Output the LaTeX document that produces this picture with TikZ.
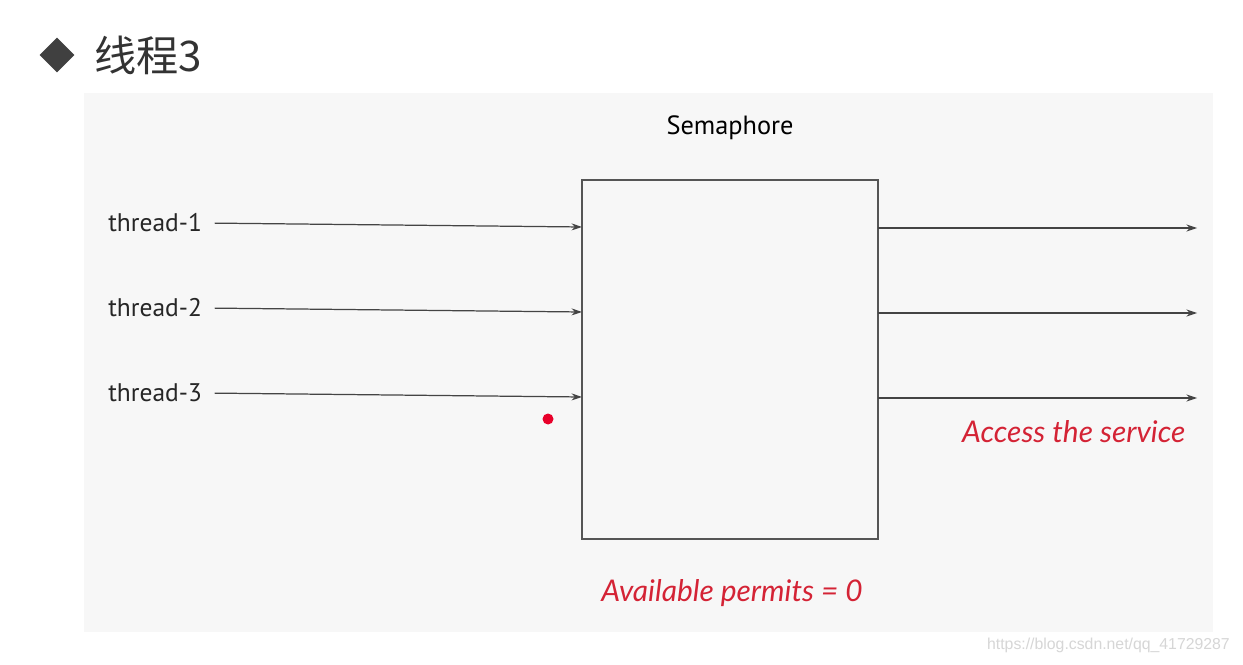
\documentclass[tikz,border=0pt]{standalone}
\usepackage{fontspec}
\setmainfont{PT Sans}
\newfontfamily\cjk{Noto Sans CJK SC}
\newfontfamily\handfont{Lato}
\newfontfamily\wmfont{Liberation Sans}
\usetikzlibrary{shapes.geometric,arrows.meta}
\definecolor{panel}{HTML}{F7F7F7}
\definecolor{boxline}{HTML}{555555}
\definecolor{arrowline}{HTML}{444444}
\definecolor{handred}{HTML}{D42335}
\definecolor{dotred}{HTML}{E8002A}
\definecolor{wmgray}{HTML}{D6D6D6}
\tikzset{
  thread/.style={anchor=west,inner sep=0pt,text=black!85,font=\fontsize{14.5}{17}\selectfont},
  hand/.style={text=handred,font=\handfont\itshape\fontsize{17}{20}\selectfont},
  flow/.style={arrowline,line width=0.7pt,->,>={Stealth[length=6pt,width=4pt]}}
}
\begin{document}
\begin{tikzpicture}[x=0.02cm,y=-0.02cm]
            \useasboundingbox (0,0) rectangle (1243,665);
            \fill[white] (0,0) rectangle (1243,665);
            \fill[panel] (84,93) rectangle (1213,632);
            \node[diamond,fill=black!75,minimum width=0.7cm,minimum height=0.7cm,inner sep=0pt] (bullet) at (57,55) {};
            \node[anchor=west,text=black!80,font=\cjk\fontsize{24}{28}\selectfont] (title) at (88,55) {线程3};
            \node[font=\fontsize{15}{18}\selectfont] (semlabel) at (730,128) {Semaphore};
            \node[draw=boxline,thick,anchor=north west,minimum width=5.92cm,minimum height=7.18cm,inner sep=0pt,outer sep=0pt] (sem) at (582,180) {};
            \node[thread] (t1) at (108,223) {thread-1};
            \node[thread] (t2) at (108,308) {thread-2};
            \node[thread] (t3) at (108,393) {thread-3};
            \coordinate (i1) at (582,227);
            \coordinate (i2) at (582,312);
            \coordinate (i3) at (582,397);
            \coordinate (o1) at (1197,228);
            \coordinate (o2) at (1197,313);
            \coordinate (o3) at (1197,398);
            \draw[flow,shorten <=7pt] (t1.east) -- (i1);
            \draw[flow,shorten <=7pt] (t2.east) -- (i2);
            \draw[flow,shorten <=7pt] (t3.east) -- (i3);
            \draw[flow] (sem.east |- o1) -- (o1);
            \draw[flow] (sem.east |- o2) -- (o2);
            \draw[flow] (sem.east |- o3) -- (o3);
            \node[circle,fill=dotred,minimum size=0.22cm,inner sep=0pt] (dot) at (548,419) {};
            \node[hand,anchor=west] (access) at (956,432) {Access the service};
            \node[hand] (permits) at (732,593) {Available permits = 0};
            \node[anchor=east,text=wmgray,font=\wmfont\fontsize{9}{11}\selectfont] (wm) at (1236,645) {https://blog.csdn.net/qq\_41729287};
        \end{tikzpicture}
\end{document}
